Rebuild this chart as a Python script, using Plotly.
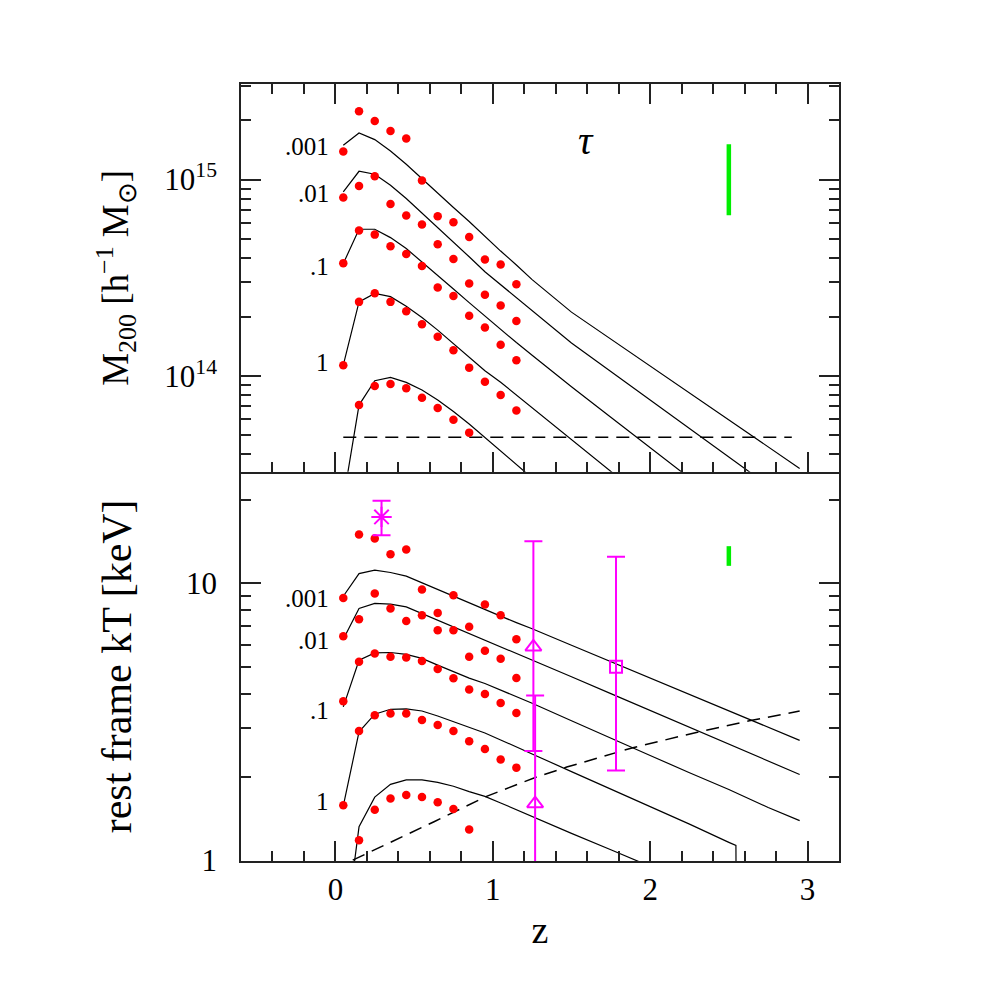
import plotly.graph_objects as go

# ---------------- data ----------------
z_dots = [0.05, 0.15, 0.25, 0.35, 0.45, 0.55, 0.65, 0.75, 0.85, 0.95, 1.05, 1.15]

# top panel: M200 [h^-1 Msun] of simulated clusters (red dots)
m_dots_1 = [1.39e15, 2.23e15, 1.99e15, 1.77e15, 1.62e15, 9.9e14, 6.50e14, 6.06e14, 5.10e14, 3.91e14, 3.69e14, 2.93e14]
m_dots_2 = [8.09e14, 9.28e14, 1.04e15, 7.51e14, 6.55e14, 5.90e14, 4.68e14, 3.94e14, 2.95e14, 2.59e14, 2.28e14, 1.90e14]
m_dots_3 = [3.75e14, 5.50e14, 5.24e14, 4.57e14, 4.17e14, 3.63e14, 2.82e14, 2.55e14, 2.02e14, 1.76e14, 1.44e14, 1.20e14]
m_dots_4 = [1.13e14, 2.38e14, 2.63e14, 2.38e14, 2.13e14, 1.83e14, 1.58e14, 1.35e14, 1.10e14, 9.32e13, 7.98e13, 6.66e13]
m_dots_5 = [None, 7.09e13, 8.86e13, 9.07e13, 8.63e13, 7.73e13, 6.85e13, 5.97e13, 5.13e13, None, None, None]

# bottom panel: rest frame kT [keV] (red dots)
t_dots_1 = [8.87, 15.03, 14.54, 12.76, 13.27, 9.51, 7.83, 9.07, 6.97, 8.40, 7.68, 6.29]
t_dots_2 = [6.45, 7.43, 9.20, 8.12, 7.32, 7.68, 6.78, 6.78, 5.43, 5.71, 5.34, 4.55]
t_dots_3 = [3.75, 5.21, 5.58, 5.43, 5.40, 5.25, 4.91, 4.54, 4.14, 3.99, 3.70, 3.40]
t_dots_4 = [1.58, 2.93, 3.34, 3.39, 3.39, 3.21, 3.08, 2.93, 2.69, 2.52, 2.31, 2.16]
t_dots_5 = [None, 1.18, 1.52, 1.67, 1.72, 1.69, 1.62, 1.53, 1.29, None, None, None]

# model curves, labelled by tau
z_curve = [0.05, 0.15, 0.25, 0.35, 0.45, 0.55, 0.65, 0.75, 0.85, 0.95,
           1.05, 1.15, 1.25, 1.5, 1.75, 2.0, 2.25, 2.5, 2.75, 2.95]
m_tau_001 = [1.495e15, 1.728e15, 1.598e15, 1.399e15, 1.196e15, 1.007e15, 8.51e14, 7.20e14, 6.11e14, 5.13e14,
             4.32e14, 3.67e14, 3.09e14, 2.11e14, 1.54e14, 1.122e14, 8.15e13, 5.94e13, 4.33e13, 3.37e13]
m_tau_01 = [8.65e14, 1.102e15, 1.064e15, 9.35e14, 8.00e14, 6.76e14, 5.69e14, 4.81e14, 4.04e14, 3.39e14,
            2.91e14, 2.49e14, 2.14e14, 1.469e14, 1.052e14, 7.53e13, 5.38e13, 3.86e13, 2.76e13, 2.11e13]
m_tau_1 = [3.73e14, 5.58e14, 5.58e14, 5.06e14, 4.45e14, 3.81e14, 3.24e14, 2.77e14, 2.36e14, 2.02e14,
           1.713e14, 1.476e14, 1.272e14, 8.79e13, 6.15e13, 4.31e13, 3.01e13, None, None, None]
m_tau_1_0 = [1.134e14, 2.38e14, 2.63e14, 2.53e14, 2.26e14, 1.98e14, 1.709e14, 1.461e14, 1.241e14, 1.061e14,
             9.27e13, 7.98e13, 6.87e13, 4.73e13, 3.26e13, 2.24e13, None, None, None, None]
m_tau_10 = [2.33e13, 7.09e13, 9.43e13, 9.81e13, 9.25e13, 8.46e13, 7.52e13, 6.58e13, 5.68e13, 4.85e13,
            4.10e13, 3.51e13, 3.01e13, None, None, None, None, None, None, None]

t_tau_001 = [8.99, 10.86, 11.17, 10.96, 10.63, 10.05, 9.48, 8.97, 8.47, 8.05,
             7.62, 7.22, 6.86, 5.98, 5.22, 4.55, 3.97, 3.47, 3.02, 2.71]
t_tau_01 = [6.29, 8.12, 8.47, 8.42, 8.23, 7.79, 7.35, 6.95, 6.58, 6.23,
            5.90, 5.58, 5.29, 4.60, 4.00, 3.48, 3.02, 2.63, 2.29, 2.04]
t_tau_1 = [3.58, 5.28, 5.61, 5.63, 5.54, 5.36, 5.07, 4.79, 4.55, 4.35,
           4.12, 3.89, 3.69, 3.19, 2.77, 2.39, 2.07, 1.80, 1.55, 1.39]
z_curve_t1 = [0.05, 0.15, 0.25, 0.35, 0.45, 0.55, 0.65, 0.75, 0.85, 0.95,
              1.05, 1.15, 1.25, 1.5, 1.75, 2.0, 2.25, 2.5, 2.545, 2.55]
t_tau_1_0 = [1.57, 2.91, 3.37, 3.51, 3.52, 3.46, 3.32, 3.17, 3.02, 2.88,
             2.72, 2.57, 2.42, 2.09, 1.81, 1.56, 1.35, 1.16, 1.13, 0.3]
t_tau_10 = [0.48, 1.32, 1.69, 1.88, 1.95, 1.95, 1.91, 1.85, 1.77, 1.70,
            1.61, 1.52, 1.44, 1.25, 1.09, 0.95, None, None, None, None]

# detection limits (dashed)
z_mlim = [0.05, 2.9]
m_lim = [4.86e13, 4.86e13]
z_tlim = [0.11, 0.42, 0.63, 0.96, 1.27, 1.47, 1.89, 2.31, 2.63, 2.95]
t_lim = [1.00, 1.21, 1.38, 1.70, 1.99, 2.17, 2.55, 2.91, 3.19, 3.46]

# observed clusters (magenta)
obs_star = dict(z=0.293, t=17.4, hi=19.9, lo=14.95)
obs_tri1 = dict(z=1.258, t=5.90, hi=14.22, lo=2.48)
obs_tri2 = dict(z=1.269, t=1.60, hi=3.94, lo=0.5)
obs_sq = dict(z=1.783, t=5.00, hi=12.48, lo=2.11)

# green uncertainty bars
z_green = 2.5
m_green = [6.58e14, 1.513e15]
t_green = [11.58, 13.64]

tau_labels = [".001", ".01", ".1", "1"]
m_label_y = [15.166, 14.929, 14.5586, 14.066]   # log10 positions
t_label_y = [0.9458, 0.795, 0.542, 0.2107]

# ---------------- figure ----------------
FONT = "Liberation Serif"
BLACK = "#000000"
AX = "#222222"
RED = "#ff0000"
MAG = "#ff00ff"
GREEN = "#00ee00"
DASH = "13px,8px"

fig = go.Figure()

def curve(x, y, xa, ya, dash=None, w=1.2):
    fig.add_trace(go.Scatter(x=x, y=y, mode="lines", xaxis=xa, yaxis=ya,
                             line=dict(color=BLACK, width=w, dash=dash),
                             connectgaps=False, showlegend=False, hoverinfo="skip"))

for m in [m_tau_001, m_tau_01, m_tau_1, m_tau_1_0, m_tau_10]:
    curve(z_curve, m, "x2", "y2")
curve(z_mlim, m_lim, "x2", "y2", dash=DASH, w=1.5)

for t in [t_tau_001, t_tau_01, t_tau_1, t_tau_10]:
    curve(z_curve, t, "x", "y")
curve(z_curve_t1, t_tau_1_0, "x", "y")
curve(z_tlim, t_lim, "x", "y", dash=DASH, w=1.5)

for m in [m_dots_1, m_dots_2, m_dots_3, m_dots_4, m_dots_5]:
    fig.add_trace(go.Scatter(x=z_dots, y=m, mode="markers", xaxis="x2", yaxis="y2",
                             marker=dict(color=RED, size=8.5, line=dict(width=0)),
                             showlegend=False))
for t in [t_dots_1, t_dots_2, t_dots_3, t_dots_4, t_dots_5]:
    fig.add_trace(go.Scatter(x=z_dots, y=t, mode="markers", xaxis="x", yaxis="y",
                             marker=dict(color=RED, size=8.5, line=dict(width=0)),
                             showlegend=False))

# green bars
fig.add_trace(go.Scatter(x=[z_green, z_green], y=m_green, mode="lines", xaxis="x2", yaxis="y2",
                         line=dict(color=GREEN, width=4.5), showlegend=False))
fig.add_trace(go.Scatter(x=[z_green, z_green], y=t_green, mode="lines", xaxis="x", yaxis="y",
                         line=dict(color=GREEN, width=4.5), showlegend=False))

# observed points with error bars
for ob, sym, size in [(obs_star, "asterisk-open", 17), (obs_tri1, "triangle-up-open", 14),
                      (obs_tri2, "triangle-up-open", 14), (obs_sq, "square-open", 12)]:
    fig.add_trace(go.Scatter(
        x=[ob["z"]], y=[ob["t"]], mode="markers", xaxis="x", yaxis="y",
        marker=dict(symbol=sym, size=size, color=MAG, line=dict(color=MAG, width=2)),
        error_y=dict(type="data", symmetric=False, array=[ob["hi"] - ob["t"]],
                     arrayminus=[ob["t"] - ob["lo"]], color=MAG, thickness=2, width=9),
        showlegend=False))

# labels
ann = []
for lab, yv in zip(tau_labels, m_label_y):
    ann.append(dict(x=-0.027, y=yv, xref="x2", yref="y2", text=lab, showarrow=False,
                    xanchor="right", yanchor="middle", font=dict(family=FONT, size=25, color=BLACK)))
for lab, yv in zip(tau_labels, t_label_y):
    ann.append(dict(x=-0.027, y=yv, xref="x", yref="y", text=lab, showarrow=False,
                    xanchor="right", yanchor="middle", font=dict(family=FONT, size=25, color=BLACK)))
ann.append(dict(x=1.593, y=15.2, xref="x2", yref="y2", text="<i>τ</i>", showarrow=False,
                xanchor="center", yanchor="middle", font=dict(family=FONT, size=40, color=BLACK)))

x_major = [0, 1, 2, 3]
x_minor = [-0.4, -0.2, 0.2, 0.4, 0.6, 0.8, 1.2, 1.4, 1.6, 1.8, 2.2, 2.4, 2.6, 2.8]
m_major = [1e14, 1e15]
m_major_text = ["10<sup>14</sup>", "10<sup>15</sup>"]
m_minor = [4e13, 5e13, 6e13, 7e13, 8e13, 9e13, 2e14, 3e14, 4e14, 5e14, 6e14, 7e14, 8e14, 9e14, 2e15, 3e15]
t_major = [1, 10]
t_major_text = ["1", "10"]
t_minor = [2, 3, 4, 5, 6, 7, 8, 9, 20]
Z_RANGE = [-0.6, 3.2]

tick_common = dict(ticks="inside", ticklen=20, tickwidth=1.5, tickcolor=AX,
                   showgrid=False, zeroline=False,
                   tickfont=dict(family=FONT, size=31, color=BLACK))
line_common = dict(showline=True, linecolor=AX, linewidth=1.5)
minor_common = dict(tickmode="array", ticklen=10, tickwidth=1.5, tickcolor=AX, ticks="inside")

SPLIT = 0.50103

fig.update_layout(
    width=981, height=981,
    margin=dict(l=233, r=150, t=76, b=128),
    paper_bgcolor="white", plot_bgcolor="white",
    showlegend=False,
    annotations=ann,
    # bottom panel: z axis with labels (bottom edge only)
    xaxis=dict(domain=[0, 1], range=Z_RANGE, anchor="y", tickmode="array", mirror=False,
               tickvals=x_major, ticktext=[str(v) for v in x_major], ticklabelstandoff=0,
               minor=dict(tickvals=x_minor, **minor_common),
               title=dict(text="z", font=dict(family=FONT, size=38, color=BLACK), standoff=10),
               **tick_common, **line_common),
    # ticks along the top edge of the bottom panel (line comes from the top panel's axis)
    xaxis3=dict(overlaying="x", side="top", anchor="y", range=Z_RANGE, tickmode="array",
                tickvals=x_major, showticklabels=False, showline=False,
                minor=dict(tickvals=x_minor, **minor_common), **tick_common),
    # top panel z axis (line + ticks on both edges, no labels)
    xaxis2=dict(domain=[0, 1], range=Z_RANGE, anchor="y2", tickmode="array", mirror="ticks",
                tickvals=x_major, showticklabels=False,
                minor=dict(tickvals=x_minor, **minor_common),
                **tick_common, **line_common),
    yaxis=dict(domain=[0, SPLIT], type="log", range=[-0.003, 1.404], anchor="x", mirror="ticks",
               tickmode="array", tickvals=t_major, ticktext=t_major_text, ticklabelstandoff=16,
               minor=dict(tickvals=t_minor, **minor_common),
               title=dict(text="rest frame kT [keV]", font=dict(family=FONT, size=42, color=BLACK),
                          standoff=41),
               **tick_common, **line_common),
    yaxis2=dict(domain=[SPLIT, 1], type="log", range=[13.511, 15.487], anchor="x2", mirror="ticks",
                tickmode="array", tickvals=m_major, ticktext=m_major_text, ticklabelstandoff=16,
                minor=dict(tickvals=m_minor, **minor_common),
                title=dict(text="M<sub>200</sub> [h<sup>−1</sup> M<sub>⊙</sub>]",
                           font=dict(family=FONT, size=37, color=BLACK), standoff=24),
                **tick_common, **line_common),
)

fig.write_html("out.html")
